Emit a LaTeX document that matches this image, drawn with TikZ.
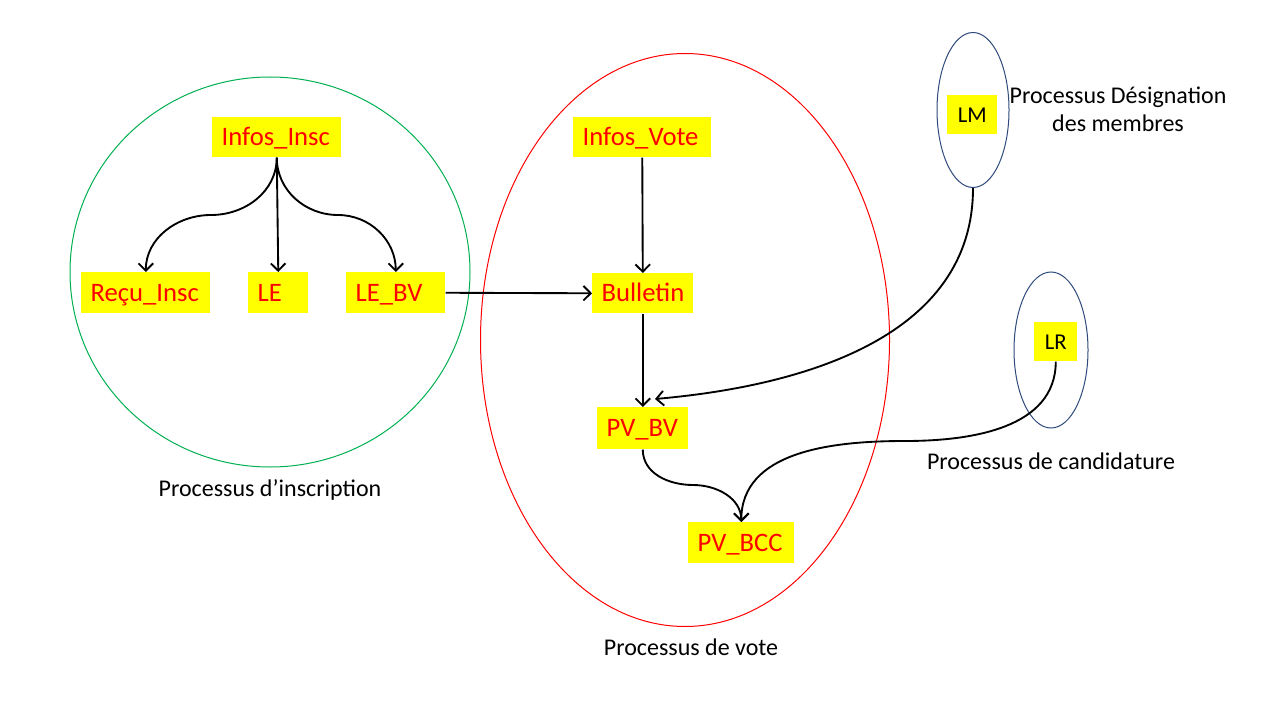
\documentclass[tikz,border=0pt]{standalone}
\usepackage{fontspec}
\setmainfont{Carlito}
\usetikzlibrary{arrows.meta,shapes.geometric}
\definecolor{pgreen}{HTML}{00B050}
\definecolor{pblue}{HTML}{2F4B7C}
\definecolor{pyellow}{HTML}{FFFF00}
\definecolor{pred}{HTML}{FF0000}
\begin{document}
\begin{tikzpicture}[x=0.75pt,y=0.75pt,
  rbox/.style={fill=pyellow, text=pred, font=\fontsize{20}{24}\selectfont,
    anchor=north west, inner xsep=7pt, inner ysep=0pt, align=left,
    text height=15pt, text depth=2pt},
  kbox/.style={fill=pyellow, text=black, font=\fontsize{17}{20}\selectfont,
    anchor=north west, inner xsep=4pt, inner ysep=0pt, align=center,
    text height=13pt, text depth=2pt},
  region/.style={ellipse, draw, line width=0.75pt, inner sep=0pt},
  lbl/.style={font=\fontsize{18}{21}\selectfont, text=black, align=center},
  conn/.style={draw=black, line width=1.4pt, -{Straight Barb[length=5.5pt,width=11pt]}}]
\useasboundingbox (0,0) rectangle (1280,-720);
\fill[white] (0,0) rectangle (1280,-720);

% process regions
\node[region, draw=pgreen, minimum width=300pt, minimum height=292.5pt] (ginsc) at (270,-272) {};
\node[region, draw=pred, minimum width=306.75pt, minimum height=429.75pt] (rvote) at (685,-340) {};
\node[region, draw=pblue, minimum width=54pt, minimum height=116.25pt] (lmell) at (973,-110) {};
\node[region, draw=pblue, minimum width=55.5pt, minimum height=117pt] (lrell) at (1051,-350) {};

% data boxes
\node[rbox, text width=82.75pt, minimum height=30pt] (infosinsc) at (212,-117) {Infos\_Insc};
\node[rbox, text width=82.75pt, minimum height=30.75pt] (recu) at (81,-272) {Reçu\_Insc};
\node[rbox, text width=31pt, minimum height=30.75pt] (le) at (248,-272) {LE};
\node[rbox, text width=60.25pt, minimum height=30.75pt] (lebv) at (346,-272) {LE\_BV};
\node[rbox, text width=89.5pt, minimum height=30pt] (infosvote) at (573,-117) {Infos\_Vote};
\node[rbox, text width=61.75pt, minimum height=30pt] (bulletin) at (592,-273) {Bulletin};
\node[rbox, text width=54.25pt, minimum height=31.5pt] (pvbv) at (597,-407) {PV\_BV};
\node[rbox, text width=65.5pt, minimum height=30.75pt] (pvbcc) at (688,-522) {PV\_BCC};
\node[kbox, text width=29.5pt, minimum height=29.25pt] (lm) at (947,-95) {LM};
\node[kbox, text width=24.25pt, minimum height=29.25pt] (lr) at (1034,-322) {LR};

% labels
\node[lbl] (linsc) at (270,-490) {Processus d’inscription};
\node[lbl] (lvote) at (691,-647) {Processus de vote};
\node[lbl] (ldesig) at (1118,-109) {Processus Désignation\\des membres};
\node[lbl] (lcand) at (1051,-461) {Processus de candidature};

% waypoints
\coordinate (m1) at (211,-215);
\coordinate (m2) at (338,-215);
\coordinate (m3) at (905,-441);
\coordinate (m4) at (693,-485);
\coordinate (lmend) at (655,-399);

% connectors
\draw[conn] (infosinsc.south) to[out=-90,in=0] (m1) to[out=180,in=90] (recu.north);
\draw[conn] (infosinsc.south) -- (le.north);
\draw[conn] (infosinsc.south) to[out=-90,in=180] (m2) to[out=0,in=90] (lebv.north);
\draw[conn] (lebv.east) -- (bulletin.west);
\draw[conn] (infosvote.south) -- (bulletin.north);
\draw[conn] (bulletin.south) -- (pvbv.north);
\draw[conn] (lmell.south) to[out=-90,in=5] (lmend);
\draw[conn] (pvbv.south) to[out=-90,in=180] (m4) to[out=0,in=90] (pvbcc.north);
\draw[conn] (lr.south) to[out=-90,in=0] (m3) to[out=180,in=90] (pvbcc.north);
\end{tikzpicture}
\end{document}
